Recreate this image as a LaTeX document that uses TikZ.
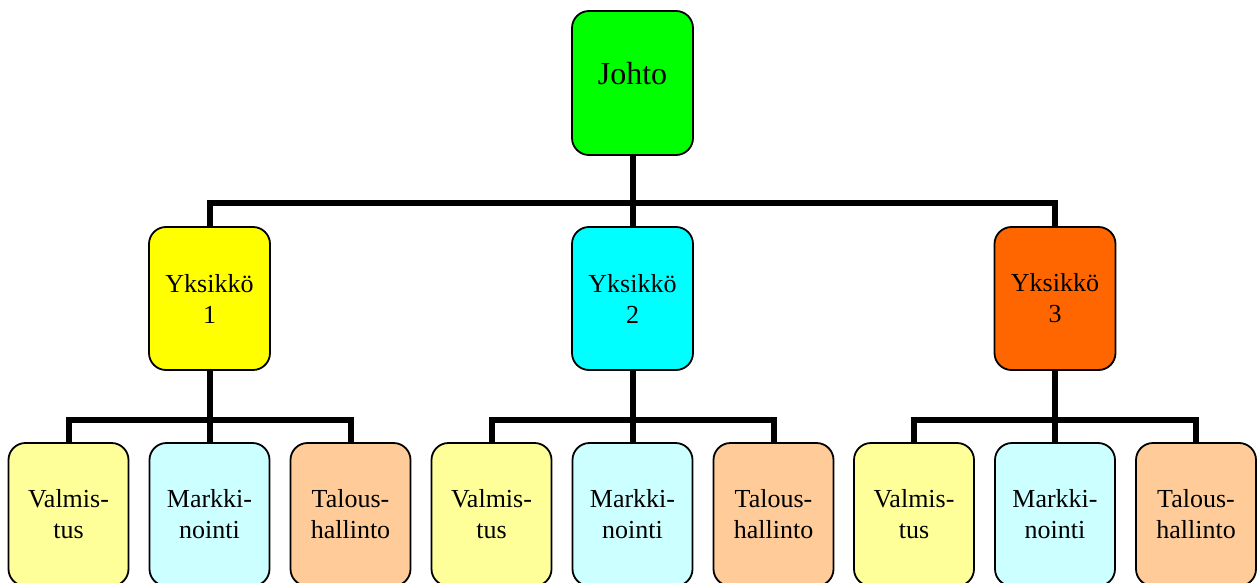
\documentclass[tikz,border=0pt]{standalone}
\usepackage{fontspec}
\setmainfont{Liberation Serif}
\usetikzlibrary{calc}
\begin{document}
\begin{tikzpicture}[x=1pt,y=-1pt,
  box/.style={draw=black, line width=1.8pt, rounded corners=17pt,
    minimum width=121pt, minimum height=143pt, inner sep=0pt,
    align=center, font=\fontsize{26}{31}\selectfont},
  conn/.style={line width=6pt, line join=miter, draw=black},
]
\definecolor{cJohto}{HTML}{00FF00}
\definecolor{cY1}{HTML}{FFFF00}
\definecolor{cY2}{HTML}{00FFFF}
\definecolor{cY3}{HTML}{FF6600}
\definecolor{cVal}{HTML}{FFFF99}
\definecolor{cMar}{HTML}{CCFFFF}
\definecolor{cTal}{HTML}{FFCC99}
\useasboundingbox (0,0) rectangle (1257,583);
\clip (0,0) rectangle (1257,583);

% top level
\node[box, fill=cJohto, minimum height=144pt] (J) at (632.5,83) {};
\node[font=\fontsize{32}{38}\selectfont, inner sep=0pt] (Jt) at (632.5,74) {Johto};

% units
\node[box, fill=cY1] (Y1) at (209.5,298.5) {Yksikkö\\1};
\node[box, fill=cY2] (Y2) at (632.5,298.5) {Yksikkö\\2};
\node[box, fill=cY3] (Y3) at (1055,298.5) {Yksikkö\\3};

% departments
\foreach \u/\x in {1/68.5, 2/491.5, 3/914} {
  \node[box, fill=cVal, minimum width=120pt] (V\u) at (\x,514.5) {Valmis-\\tus};
  \node[box, fill=cMar, minimum width=120pt] (M\u) at (\x+141,514.5) {Markki-\\nointi};
  \node[box, fill=cTal, minimum width=120pt] (T\u) at (\x+282,514.5) {Talous-\\hallinto};
}

% connectors
\coordinate (b0) at (632.5,203);
\draw[conn] (Y1.north) |- (b0) -| (Y3.north);
\draw[conn] (J.south) -- (Y2.north);
\foreach \u in {1,2,3} {
  \coordinate (c\u) at ($(Y\u.south)+(0,49)$);
  \draw[conn] (V\u.north) |- (c\u) -| (T\u.north);
  \draw[conn] (Y\u.south) -- (M\u.north);
}
\end{tikzpicture}
\end{document}
